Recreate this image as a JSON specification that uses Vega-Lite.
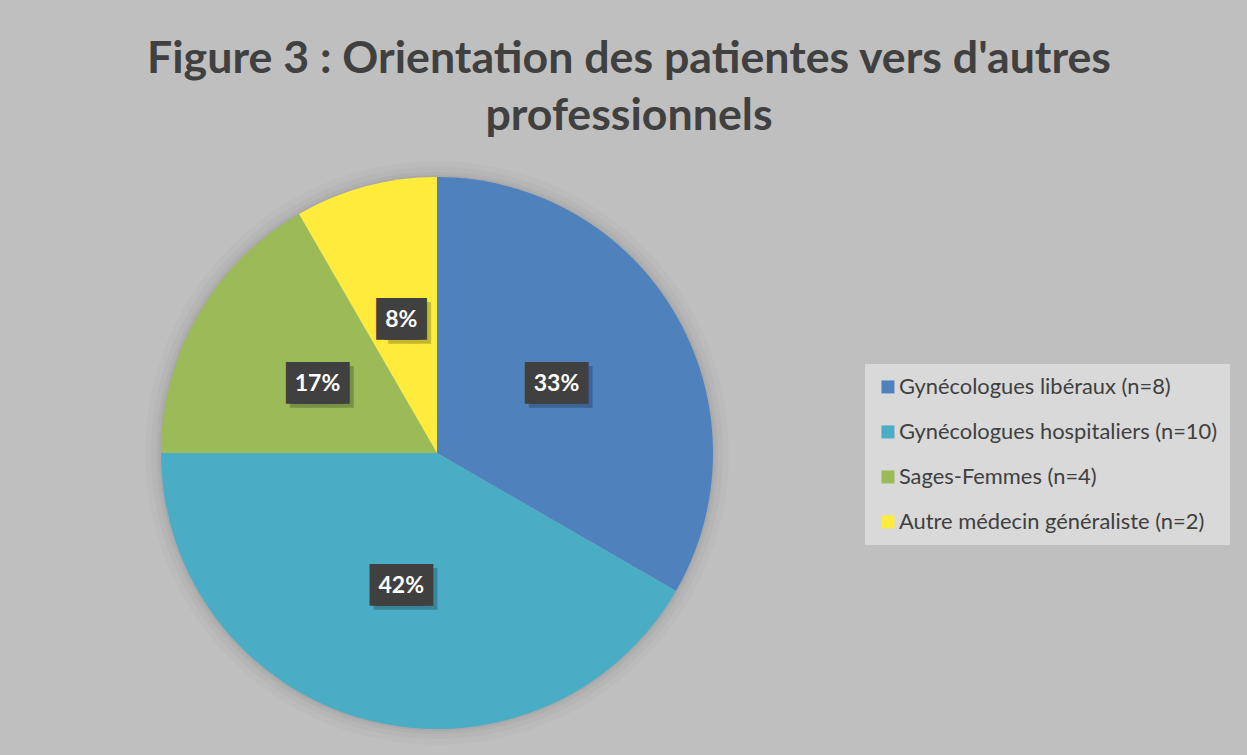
{
  "$schema": "https://vega.github.io/schema/vega-lite/v6.json",
  "autosize": "none",
  "padding": {"left": 157, "top": 173, "right": 530, "bottom": 22},
  "width": 560,
  "height": 560,
  "background": "#BFBFBF",
  "config": {"view": {"stroke": null}},
  "title": {
    "text": ["Figure 3 : Orientation des patientes vers d'autres", "professionnels"],
    "font": "Lato",
    "fontSize": 44.7,
    "fontWeight": "bold",
    "color": "#404040",
    "anchor": "middle",
    "frame": "group",
    "dx": 192,
    "offset": 21,
    "lineHeight": 57
  },
  "data": {
    "values": [
      {"categorie": "Gynécologues libéraux (n=8)", "n": 8, "pourcentage": "33%", "rang": 1},
      {"categorie": "Gynécologues hospitaliers (n=10)", "n": 10, "pourcentage": "42%", "rang": 2},
      {"categorie": "Sages-Femmes (n=4)", "n": 4, "pourcentage": "17%", "rang": 3},
      {"categorie": "Autre médecin généraliste (n=2)", "n": 2, "pourcentage": "8%", "rang": 4}
    ]
  },
  "encoding": {
    "theta": {"field": "n", "type": "quantitative", "stack": true},
    "order": {"field": "rang", "type": "quantitative"}
  },
  "layer": [
    {"mark": {"type": "arc", "outerRadius": 292, "fill": "#000000", "opacity": 0.02}},
    {"mark": {"type": "arc", "outerRadius": 286, "fill": "#000000", "opacity": 0.025}},
    {"mark": {"type": "arc", "outerRadius": 281, "fill": "#000000", "opacity": 0.03}},
    {"mark": {"type": "arc", "outerRadius": 278, "fill": "#000000", "opacity": 0.035}},
    {
      "mark": {"type": "arc", "outerRadius": 276},
      "encoding": {
        "color": {
          "field": "categorie",
          "type": "nominal",
          "sort": null,
          "scale": {
            "domain": ["Gynécologues libéraux (n=8)", "Gynécologues hospitaliers (n=10)", "Sages-Femmes (n=4)", "Autre médecin généraliste (n=2)"],
            "range": ["#4F81BD", "#4BACC6", "#9BBB59", "#FFEB3B"]
          },
          "legend": {
            "title": null,
            "orient": "none",
            "legendX": 708,
            "legendY": 191,
            "fillColor": "#D9D9D9",
            "padding": 12,
            "symbolType": "square",
            "symbolSize": 169,
            "symbolStrokeWidth": 0,
            "labelFont": "Lato",
            "labelFontSize": 21.9,
            "labelColor": "#404040",
            "labelOffset": 0,
            "rowPadding": 22,
            "labelLimit": 400
          }
        }
      }
    },
    {
      "mark": {"type": "text", "radius": 138, "font": "DejaVu Sans Mono", "fontSize": 35, "color": "#000000", "opacity": 0.22, "dx": 4, "dy": 4, "baseline": "middle", "align": "center"},
      "encoding": {"text": {"condition": {"test": "datum.n < 4", "value": ""}, "value": "███"}}
    },
    {
      "mark": {"type": "text", "radius": 138, "font": "DejaVu Sans Mono", "fontSize": 35, "color": "#000000", "opacity": 0.22, "dx": 8, "dy": 4, "baseline": "middle", "align": "center"},
      "encoding": {"text": {"condition": {"test": "datum.n < 4", "value": "██"}, "value": ""}}
    },
    {
      "mark": {"type": "text", "radius": 138, "font": "DejaVu Sans Mono", "fontSize": 35, "color": "#404040", "dx": -4, "baseline": "middle", "align": "center"},
      "encoding": {"text": {"value": "██"}}
    },
    {
      "mark": {"type": "text", "radius": 138, "font": "DejaVu Sans Mono", "fontSize": 35, "color": "#404040", "dx": 4, "baseline": "middle", "align": "center"},
      "encoding": {"text": {"value": "██"}}
    },
    {
      "mark": {"type": "text", "radius": 138, "font": "DejaVu Sans Mono", "fontSize": 35, "color": "#404040", "baseline": "middle", "align": "center"},
      "encoding": {"text": {"condition": {"test": "datum.n < 4", "value": ""}, "value": "███"}}
    },
    {
      "mark": {"type": "text", "radius": 138, "font": "Lato", "fontSize": 23, "fontWeight": "bold", "color": "#FFFFFF", "baseline": "middle", "align": "center"},
      "encoding": {"text": {"field": "pourcentage", "type": "nominal"}}
    }
  ]
}
